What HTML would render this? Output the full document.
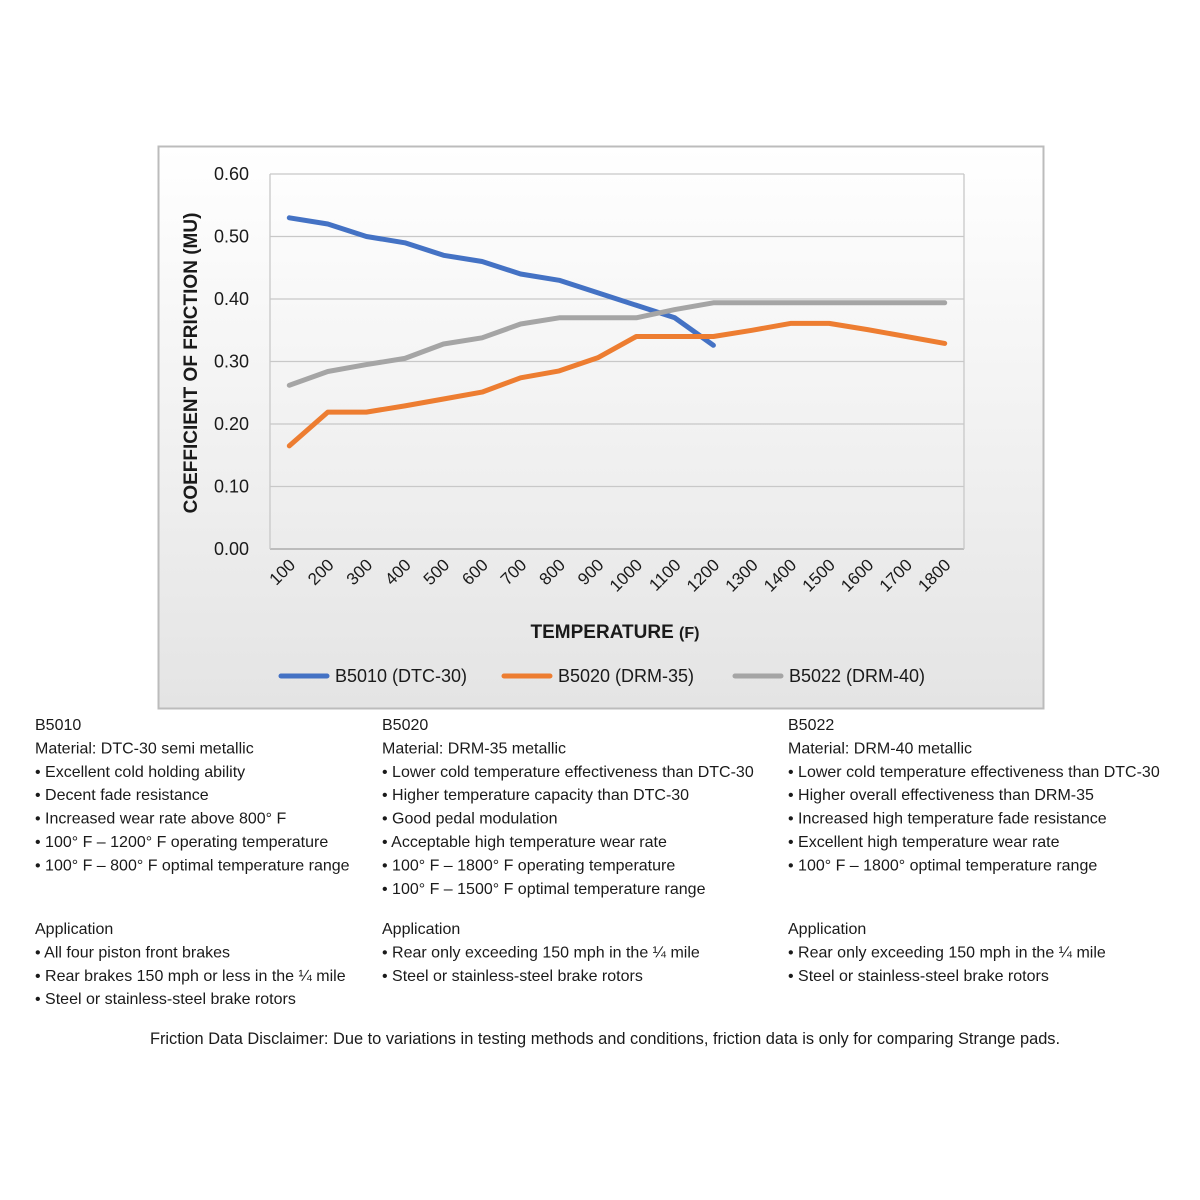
<!DOCTYPE html>
<html><head><meta charset="utf-8"><style>
html,body{margin:0;padding:0;background:#fff;width:1200px;height:1200px;overflow:hidden}
svg{display:block}
text{font-family:"Liberation Sans",sans-serif;fill:#1a1a1a}
</style></head><body>
<svg id="s" width="1200" height="1200" viewBox="0 0 1200 1200" xmlns="http://www.w3.org/2000/svg">
<defs><linearGradient id="g" x1="0" y1="0" x2="0" y2="1"><stop offset="0" stop-color="#ffffff"/><stop offset="1" stop-color="#e4e4e4"/></linearGradient></defs>
<rect x="158.5" y="146.5" width="885" height="562" fill="url(#g)" stroke="#bcbcbc" stroke-width="2"/>
<g id="grid"></g>
<g id="ser"></g>
<text x="615" y="638" font-size="19" font-weight="bold" text-anchor="middle">TEMPERATURE <tspan font-size="16">(F)</tspan></text>
<text transform="translate(197,363) rotate(-90)" font-size="19" font-weight="bold" text-anchor="middle">COEFFICIENT OF FRICTION (MU)</text>
<line x1="281" y1="676" x2="327" y2="676" stroke="#4472c4" stroke-width="5" stroke-linecap="round"/>
<text x="335" y="682" font-size="18">B5010 (DTC-30)</text>
<line x1="504" y1="676" x2="550" y2="676" stroke="#ed7d31" stroke-width="5" stroke-linecap="round"/>
<text x="558" y="682" font-size="18">B5020 (DRM-35)</text>
<line x1="735" y1="676" x2="781" y2="676" stroke="#a5a5a5" stroke-width="5" stroke-linecap="round"/>
<text x="789" y="682" font-size="18">B5022 (DRM-40)</text>
<g id="txt" font-size="16"></g>
<text x="605" y="1044" font-size="16.4" text-anchor="middle">Friction Data Disclaimer:  Due to variations in testing methods and conditions, friction data is only for comparing Strange pads.</text>
</svg>
<script>
var NS="http://www.w3.org/2000/svg";
function el(p,t,a,txt){var e=document.createElementNS(NS,t);for(var k in a)e.setAttribute(k,a[k]);if(txt!=null)e.textContent=txt;document.getElementById(p).appendChild(e);return e;}
var L=270,R=964,T=174,B=549;
for(var i=0;i<=6;i++){var y=B-i*62.5;el("grid","line",{x1:L,x2:R,y1:y,y2:y,stroke:i==0?"#a0a0a0":"#c8c8c8","stroke-width":1.3});
el("grid","text",{x:249,y:y+6,"font-size":18,"text-anchor":"end"},(i/10).toFixed(2));}
el("grid","line",{x1:L,x2:L,y1:T,y2:B,stroke:"#c8c8c8","stroke-width":1.3});
el("grid","line",{x1:R,x2:R,y1:T,y2:B,stroke:"#c8c8c8","stroke-width":1.3});
var cw=(R-L)/18;
for(var i=0;i<18;i++){var x=L+cw*(i+0.5);
el("grid","text",{transform:"translate("+(x+7)+",566) rotate(-45)","font-size":17,"text-anchor":"end"},String((i+1)*100));}
var S=[["#4472c4",[0.53,0.52,0.50,0.49,0.47,0.46,0.44,0.43,0.41,0.39,0.37,0.326]],
["#a5a5a5",[0.262,0.284,0.295,0.305,0.328,0.338,0.36,0.37,0.37,0.37,0.383,0.394,0.394,0.394,0.394,0.394,0.394,0.394]],
["#ed7d31",[0.165,0.219,0.219,0.229,0.24,0.251,0.274,0.285,0.306,0.34,0.34,0.34,0.35,0.361,0.361,0.351,0.34,0.329]]];
S.forEach(function(s){var p=s[1].map(function(v,i){return (L+cw*(i+0.5)).toFixed(1)+","+(B-v*625).toFixed(1)}).join(" ");
el("ser","polyline",{points:p,fill:"none",stroke:s[0],"stroke-width":5,"stroke-linecap":"round","stroke-linejoin":"round"});});
var cols=[[35,["B5010","Material: DTC-30 semi metallic","• Excellent cold holding ability","• Decent fade resistance","• Increased wear rate above 800° F","• 100° F – 1200° F operating temperature","• 100° F – 800° F optimal temperature range"],["Application","• All four piston front brakes","• Rear brakes 150 mph or less in the ¼ mile","• Steel or stainless-steel brake rotors"]],
[382,["B5020","Material: DRM-35 metallic","• Lower cold temperature effectiveness than DTC-30","• Higher temperature capacity than DTC-30","• Good pedal modulation","• Acceptable high temperature wear rate","• 100° F – 1800° F operating temperature","• 100° F – 1500° F optimal temperature range"],["Application","• Rear only exceeding 150 mph in the ¼ mile","• Steel or stainless-steel brake rotors"]],
[788,["B5022","Material: DRM-40 metallic","• Lower cold temperature effectiveness than DTC-30","• Higher overall effectiveness than DRM-35","• Increased high temperature fade resistance","• Excellent high temperature wear rate","• 100° F – 1800° optimal temperature range"],["Application","• Rear only exceeding 150 mph in the ¼ mile","• Steel or stainless-steel brake rotors"]]];
cols.forEach(function(c){c[1].forEach(function(t,i){el("txt","text",{x:c[0],y:730+i*23.4},t);});
c[2].forEach(function(t,i){el("txt","text",{x:c[0],y:934+i*23.4},t);});});
</script>
</body></html>
